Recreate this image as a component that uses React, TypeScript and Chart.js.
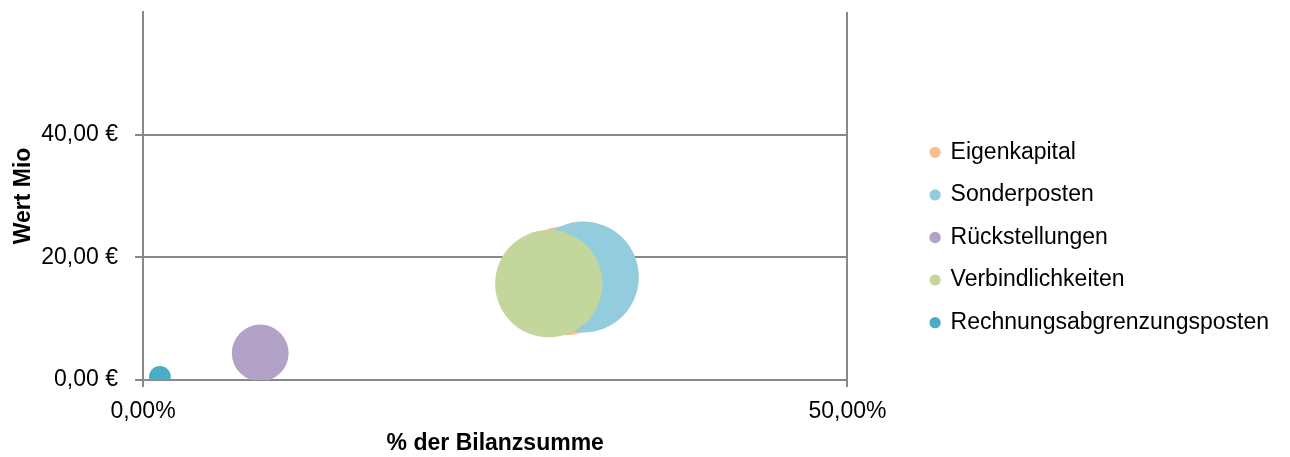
import React, { useEffect, useRef } from "react";
import { Chart, registerables } from "chart.js";

Chart.register(...registerables);

// ---- data ----
const seriesNames = [
  "Eigenkapital",
  "Sonderposten",
  "Rückstellungen",
  "Verbindlichkeiten",
  "Rechnungsabgrenzungsposten",
];
const shareOfTotal = [30.0, 31.25, 8.32, 28.8, 1.2]; // % der Bilanzsumme
const valueMio = [16.2, 16.8, 4.4, 15.7, 0.5]; // Wert Mio €
const bubbleSize = [16.2, 16.8, 4.4, 15.7, 0.65];
const seriesColors = ["#F9BE8E", "#93CDDD", "#B3A2C7", "#C3D69B", "#4BACC6"];
const xTickValues = [0, 50];
const yTickValues = [0, 20, 40];

const FONT = "'Liberation Sans', Arial, sans-serif";
const GRID = "#888888";
const MAX_R = 55.5;

export default function App() {
  const ref = useRef<HTMLCanvasElement | null>(null);

  useEffect(() => {
    if (!ref.current) return;
    const maxSize = Math.max(...bubbleSize);
    const n = seriesNames.length;
    const datasets = seriesNames.map((name, i) => ({
      label: name,
      data: [
        {
          x: shareOfTotal[i],
          y: valueMio[i],
          r: MAX_R * Math.sqrt(bubbleSize[i] / maxSize),
        },
      ],
      backgroundColor: seriesColors[i],
      borderColor: seriesColors[i],
      borderWidth: 0,
      hoverBorderWidth: 0,
      pointStyle: "circle",
      clip: 0,
      order: n - i,
    }));

    const zeroPad = (s: any) => {
      s.paddingTop = 0;
      s.paddingBottom = 0;
      s.paddingLeft = 0;
      s.paddingRight = 0;
    };

    const chart = new Chart(ref.current, {
      type: "bubble",
      data: { datasets },
      options: {
        animation: false,
        responsive: false,
        layout: { autoPadding: false, padding: { top: 12, right: 11, bottom: 0, left: 0 } },
        plugins: {
          tooltip: { enabled: false },
          legend: {
            position: "right",
            align: "center",
            maxWidth: 420,
            title: {
              display: true,
              text: "",
              padding: 0,
              font: { family: FONT, size: 6, lineHeight: 1 },
            },
            labels: {
              usePointStyle: true,
              pointStyle: "circle",
              boxWidth: 8,
              boxHeight: 8,
              padding: 19.6,
              color: "#000000",
              font: { family: FONT, size: 23 },
              sort: (a: any, b: any) => a.datasetIndex - b.datasetIndex,
            },
          },
        },
        scales: {
          x: {
            type: "linear",
            position: "bottom",
            min: 0,
            max: 50,
            afterBuildTicks: (s: any) => {
              s.ticks = xTickValues.map((v) => ({ value: v }));
            },
            afterFit: (s: any) => {
              s.height = 77;
              zeroPad(s);
            },
            ticks: {
              padding: 11,
              color: "#000000",
              font: { family: FONT, size: 23 },
              maxRotation: 0,
              callback: (v: any) => Number(v).toFixed(2).replace(".", ",") + "%",
            },
            grid: {
              color: GRID,
              lineWidth: 2,
              tickLength: 7,
              drawTicks: true,
            },
            border: { display: true, color: GRID, width: 2 },
            title: {
              display: true,
              text: "% der Bilanzsumme",
              color: "#000000",
              font: { family: FONT, size: 23, weight: "bold" },
              padding: { top: 0, bottom: 0 },
            },
          },
          y: {
            type: "linear",
            position: "left",
            min: 0,
            max: 60,
            afterBuildTicks: (s: any) => {
              s.ticks = yTickValues.map((v) => ({ value: v }));
            },
            afterFit: (s: any) => {
              s.width = 143;
              zeroPad(s);
            },
            ticks: {
              padding: 17,
              color: "#000000",
              font: { family: FONT, size: 23 },
              callback: (v: any) => Number(v).toFixed(2).replace(".", ",") + " €",
            },
            grid: {
              color: GRID,
              lineWidth: 2,
              tickLength: 8,
              drawTicks: true,
            },
            border: { display: true, color: GRID, width: 2 },
            title: {
              display: true,
              text: "Wert Mio",
              color: "#000000",
              font: { family: FONT, size: 23, weight: "bold" },
              padding: { top: 10, bottom: 0 },
            },
          },
          spacer: {
            type: "linear",
            position: "right",
            display: true,
            min: 0,
            max: 1,
            grid: { display: false, drawTicks: false },
            border: { display: false },
            ticks: { display: false },
            afterFit: (s: any) => {
              s.width = 64;
              zeroPad(s);
            },
          },
        },
      },
    } as any);

    return () => chart.destroy();
  }, []);

  return (
    <div style={{ position: "absolute", left: 0, top: 0, width: 1290, height: 457, background: "#ffffff" }}>
      <canvas ref={ref} width={1290} height={457} style={{ display: "block" }} />
    </div>
  );
}
